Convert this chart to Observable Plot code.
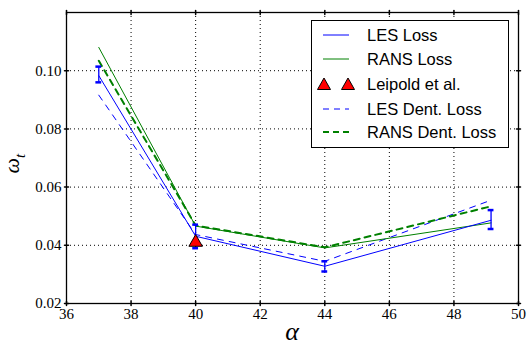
<!DOCTYPE html>
<html><head><meta charset="utf-8">
<script src="https://cdn.jsdelivr.net/npm/d3@7"></script>
<script src="https://cdn.jsdelivr.net/npm/@observablehq/plot@0.6"></script>
<style>
body{margin:0;background:#fff;}
#wrap{position:relative;width:527px;height:348px;overflow:hidden;}
#wrap svg text{font-family:"Liberation Serif",serif !important;}
.lab{position:absolute;font-family:"Liberation Serif",serif;font-style:italic;color:#000;}
#legend{position:absolute;left:311px;top:20px;width:196px;height:126px;border:1px solid #000;background:#fff;font-family:"Liberation Sans",Arial,sans-serif;font-size:16.5px;color:#000;}
#legend .row{position:absolute;left:0;height:20px;width:196px;}
#legend .row svg{position:absolute;left:8px;top:0;}
#legend .row span{position:absolute;left:55px;top:0;line-height:20px;white-space:nowrap;}
</style></head><body><div id="wrap"></div>
<script>
// ---- data ----
const alphas = [37, 40, 44, 49.15];
const lesLoss = [0.0983, 0.0431, 0.0328, 0.0486];
const ransLoss = [0.1080, 0.0466, 0.0391, 0.0477];
const lesDentLoss = [0.0916, 0.0437, 0.0345, 0.0555];
const ransDentLoss = [0.1034, 0.0468, 0.0393, 0.0534];
const lesErrLow = [0.0960, 0.0390, 0.0310, 0.0456];
const lesErrHigh = [0.1014, 0.0471, 0.0345, 0.0521];
const leipoldAlpha = [40];
const leipoldOmega = [0.0410];
const xTicks = [36, 38, 40, 42, 44, 46, 48, 50];
const yTicks = [0.02, 0.04, 0.06, 0.08, 0.10];
const yTickLabels = ["0.02", "0.04", "0.06", "0.08", "0.10"];
const legendLabels = ["LES Loss", "RANS Loss", "Leipold et al.", "LES Dent. Loss", "RANS Dent. Loss"];

const BLUE = "#0000ff", GREEN = "#008000";
const table = vals => alphas.map((a, i) => ({a, v: vals[i]}));
const errs = alphas.map((a, i) => ({a, lo: lesErrLow[i], hi: lesErrHigh[i]}));
const leip = leipoldAlpha.map((a, i) => ({a, v: leipoldOmega[i]}));
const tickShape = {draw(ctx, l) { ctx.moveTo(0, 0); ctx.lineTo(0, -l); }};
const capW = 0.09;

const chart = Plot.plot({
  width: 527, height: 348,
  marginLeft: 66, marginRight: 9, marginTop: 12, marginBottom: 45,
  x: {domain: [36, 50]},
  y: {domain: [0.02, 0.12]},
  style: {background: "#fff", color: "#000", fontFamily: "'Liberation Serif', serif", fontSize: "15px"},
  marks: [
    Plot.gridX(xTicks.slice(1, -1), {stroke: "#000", strokeOpacity: 1, strokeDasharray: "1,3"}),
    Plot.gridY(yTicks.slice(1), {stroke: "#000", strokeOpacity: 1, strokeDasharray: "1,3"}),
    Plot.line(table(lesDentLoss), {x: "a", y: "v", stroke: BLUE, strokeWidth: 1, strokeDasharray: "6,6"}),
    Plot.line(table(ransDentLoss), {x: "a", y: "v", stroke: GREEN, strokeWidth: 2, strokeDasharray: "6,5"}),
    Plot.line(table(ransLoss), {x: "a", y: "v", stroke: GREEN, strokeWidth: 1}),
    Plot.line(table(lesLoss), {x: "a", y: "v", stroke: BLUE, strokeWidth: 1}),
    Plot.ruleX(errs, {x: "a", y1: "lo", y2: "hi", stroke: BLUE, strokeWidth: 1.3}),
    Plot.ruleY(errs, {y: "lo", x1: d => d.a - capW, x2: d => d.a + capW, stroke: BLUE, strokeWidth: 2.5}),
    Plot.ruleY(errs, {y: "hi", x1: d => d.a - capW, x2: d => d.a + capW, stroke: BLUE, strokeWidth: 2.5}),
    Plot.dot(leip, {x: "a", y: "v", symbol: "triangle", r: 5, fill: "#ff0000", stroke: "#000", strokeWidth: 1}),
    Plot.vector(xTicks, {x: d => d, frameAnchor: "bottom", length: 4, rotate: 0, shape: tickShape, stroke: "#000"}),
    Plot.vector(xTicks, {x: d => d, frameAnchor: "top", length: 4, rotate: 180, shape: tickShape, stroke: "#000"}),
    Plot.vector(yTicks, {y: d => d, frameAnchor: "left", length: 4, rotate: 90, shape: tickShape, stroke: "#000"}),
    Plot.vector(yTicks, {y: d => d, frameAnchor: "right", length: 4, rotate: -90, shape: tickShape, stroke: "#000"}),
    Plot.axisX({ticks: xTicks, tickSize: 0, tickPadding: 5, label: null, fontSize: 15, tickFormat: d => String(d)}),
    Plot.axisY({ticks: yTicks, tickSize: 0, tickPadding: 5, label: null, fontSize: 15, tickFormat: (d, i) => yTickLabels[i]}),
    Plot.frame({stroke: "#000", strokeWidth: 1.3})
  ]
});
const wrap = document.getElementById("wrap");
wrap.appendChild(chart);
d3.select(chart).selectAll("text").attr("font-family", "Liberation Serif");

// axis labels
const yl = document.createElement("div");
yl.className = "lab";
yl.style.cssText = "left:3px;top:147px;font-size:22px;transform:rotate(-90deg);width:26px;text-align:center;line-height:26px;";
yl.innerHTML = "ω<sub style='font-size:15px'>t</sub>";
wrap.appendChild(yl);
const xl = document.createElement("div");
xl.className = "lab";
xl.style.cssText = "left:272px;top:318px;font-size:26px;width:40px;text-align:center;line-height:28px;";
xl.textContent = "α";
wrap.appendChild(xl);

// legend
const lg = document.createElement("div");
lg.id = "legend";
const rowTops = [4, 28, 53, 78, 101];
const samples = [
  `<line x1="3" y1="10" x2="29" y2="10" stroke="${BLUE}" stroke-width="1"/>`,
  `<line x1="3" y1="10" x2="29" y2="10" stroke="${GREEN}" stroke-width="1"/>`,
  `<polygon points="4,4 -2.5,15.5 10.5,15.5" fill="#ff0000" stroke="#000"/><polygon points="28,4 21.5,15.5 34.5,15.5" fill="#ff0000" stroke="#000"/>`,
  `<line x1="3" y1="10" x2="29" y2="10" stroke="${BLUE}" stroke-width="1" stroke-dasharray="6,5"/>`,
  `<line x1="3" y1="10" x2="29" y2="10" stroke="${GREEN}" stroke-width="2" stroke-dasharray="6,4"/>`
];
legendLabels.forEach((t, i) => {
  const r = document.createElement("div");
  r.className = "row";
  r.style.top = rowTops[i] + "px";
  r.innerHTML = `<svg width="40" height="20" style="overflow:visible">${samples[i]}</svg><span>${t}</span>`;
  lg.appendChild(r);
});
wrap.appendChild(lg);
</script></body></html>
